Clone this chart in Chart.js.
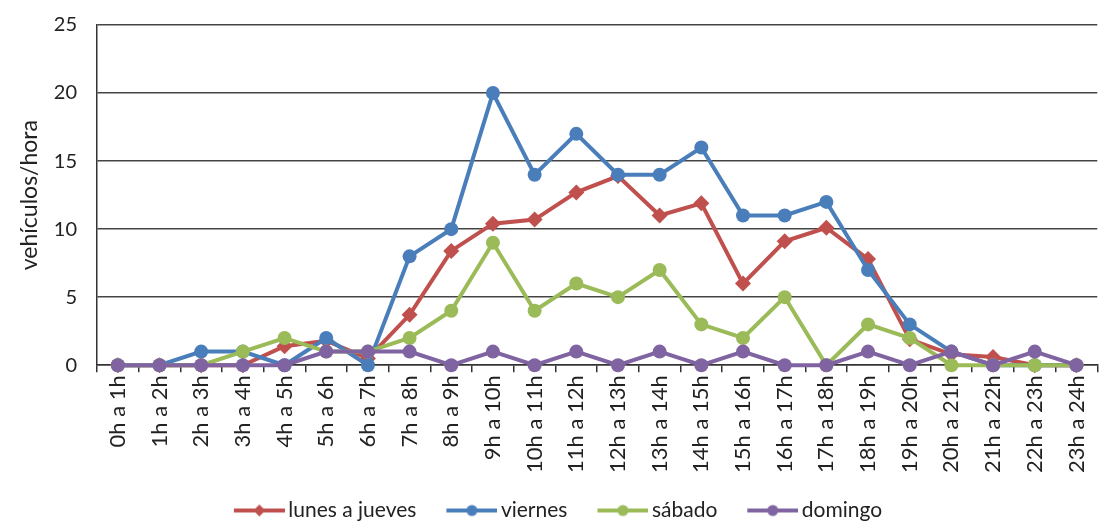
<!DOCTYPE html>
<html>
<head>
<meta charset="utf-8">
<script src="https://cdn.jsdelivr.net/npm/chart.js@4.4.1/dist/chart.umd.min.js"></script>
<style>
  body { margin: 0; overflow: hidden; background: #fff; }
  #wrap { width: 1106px; height: 522px; }
</style>
</head>
<body>
<div id="wrap"><canvas id="trafico"></canvas></div>
<script>
// franjas horarias
const HORAS = [
  '0h a 1h', '1h a 2h', '2h a 3h', '3h a 4h', '4h a 5h', '5h a 6h',
  '6h a 7h', '7h a 8h', '8h a 9h', '9h a 10h', '10h a 11h', '11h a 12h',
  '12h a 13h', '13h a 14h', '14h a 15h', '15h a 16h', '16h a 17h', '17h a 18h',
  '18h a 19h', '19h a 20h', '20h a 21h', '21h a 22h', '22h a 23h', '23h a 24h'
];

// vehículos/hora por tipo de día
const LUNES_JUEVES = [0, 0, 0, 0, 1.4, 1.8, 0.5, 3.7, 8.4, 10.4, 10.7, 12.7, 13.9, 11, 11.9, 6, 9.1, 10.1, 7.8, 1.9, 0.8, 0.6, 0, 0];
const VIERNES = [0, 0, 1, 1, 0, 2, 0, 8, 10, 20, 14, 17, 14, 14, 16, 11, 11, 12, 7, 3, 1, 0, 0, 0];
const SABADO = [0, 0, 0, 1, 2, 1, 1, 2, 4, 9, 4, 6, 5, 7, 3, 2, 5, 0, 3, 2, 0, 0, 0, 0];
const DOMINGO = [0, 0, 0, 0, 0, 1, 1, 1, 0, 1, 0, 1, 0, 1, 0, 1, 0, 0, 1, 0, 1, 0, 1, 0];

const Y_TICKS = [0, 5, 10, 15, 20, 25];

const FONT = 'Lato, "Open Sans", sans-serif';
const TXT = '#222';

// icono de leyenda: línea con marcador pequeño; el lienzo es más ancho que
// la caja de la leyenda y la línea va desplazada para quedar junto al texto
function legendIcon(color, shape) {
  const c = document.createElement('canvas');
  c.width = 64; c.height = 14;
  const g = c.getContext('2d');
  g.strokeStyle = color; g.fillStyle = color; g.lineWidth = 4;
  g.beginPath(); g.moveTo(13, 7); g.lineTo(64, 7); g.stroke();
  const cx = 38.5;
  g.beginPath();
  if (shape === 'rectRot') {
    g.moveTo(cx, 1); g.lineTo(cx + 6, 7); g.lineTo(cx, 13); g.lineTo(cx - 6, 7);
    g.closePath();
  } else {
    g.arc(cx, 7, 5.5, 0, Math.PI * 2);
  }
  g.fill();
  return c;
}

const series = [
  { label: 'lunes a jueves', data: LUNES_JUEVES, color: '#C0504D', shape: 'rectRot', r: 8, order: 4 },
  { label: 'viernes', data: VIERNES, color: '#4A7EBB', shape: 'circle', r: 7, order: 3 },
  { label: 'sábado', data: SABADO, color: '#9BBB59', shape: 'circle', r: 7, order: 2 },
  { label: 'domingo', data: DOMINGO, color: '#8064A2', shape: 'circle', r: 7, order: 1 }
];
const icons = series.map(s => legendIcon(s.color, s.shape));

new Chart(document.getElementById('trafico'), {
  type: 'line',
  data: {
    labels: HORAS,
    datasets: series.map(s => ({
      label: s.label,
      data: s.data,
      borderColor: s.color,
      backgroundColor: s.color,
      borderWidth: 4,
      pointStyle: s.shape,
      pointRadius: s.r,
      pointBorderWidth: 0,
      pointBackgroundColor: s.color,
      tension: 0,
      order: s.order,
      clip: false
    }))
  },
  options: {
    responsive: true,
    maintainAspectRatio: false,
    animation: false,
    layout: { padding: { left: 4, right: 0, top: 25, bottom: -9 } },
    plugins: {
      tooltip: { enabled: false },
      legend: {
        position: 'bottom',
        labels: {
          usePointStyle: true,
          pointStyleWidth: 50,
          padding: 24,
          color: TXT,
          font: { family: FONT, size: 21 },
          sort: (a, b) => a.datasetIndex - b.datasetIndex,
          generateLabels: chart =>
            Chart.defaults.plugins.legend.labels.generateLabels(chart)
              .map(l => ({ ...l, pointStyle: icons[l.datasetIndex] }))
        }
      }
    },
    scales: {
      x: {
        offset: true,
        border: { color: '#333', width: 1.5 },
        grid: { display: true, drawOnChartArea: false, offset: true, color: '#333', lineWidth: 1.5, tickLength: 7 },
        ticks: {
          color: TXT,
          font: { family: FONT, size: 22 },
          minRotation: 90,
          maxRotation: 90,
          autoSkip: false,
          padding: 3
        }
      },
      y: {
        min: 0,
        max: 25,
        afterBuildTicks: axis => { axis.ticks = Y_TICKS.map(v => ({ value: v })); },
        afterFit: axis => { axis.width = 93; axis.paddingTop = 0; },
        border: { color: '#333', width: 1.5 },
        grid: { color: '#444', lineWidth: 1.5, drawTicks: false },
        ticks: { color: TXT, font: { family: FONT, size: 20 }, padding: 20 },
        title: {
          display: true,
          text: 'vehículos/hora',
          color: TXT,
          font: { family: FONT, size: 23 },
          padding: { top: 12, bottom: 10 }
        }
      }
    }
  }
});
</script>
</body>
</html>
